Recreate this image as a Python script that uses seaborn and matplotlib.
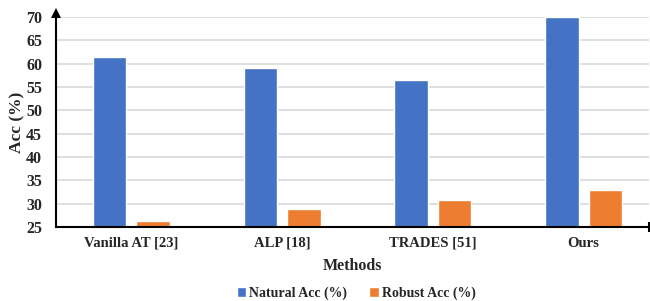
import matplotlib
matplotlib.use("Agg")
import matplotlib.pyplot as plt
import seaborn as sns
import pandas as pd

methods = ["Vanilla AT [23]", "ALP [18]", "TRADES [51]", "Ours"]
natural_acc = [61.4, 59.1, 56.4, 70.0]
robust_acc = [26.2, 28.9, 30.85, 32.9]
series_names = ["Natural Acc (%)", "Robust Acc (%)"]
colors = ["#4472C4", "#ED7D31"]
yticks = [25, 30, 35, 40, 45, 50, 55, 60, 65, 70]

df = pd.DataFrame({
    "Methods": methods * 2,
    "Acc": natural_acc + robust_acc,
    "Series": [series_names[0]] * len(methods) + [series_names[1]] * len(methods),
})

sns.set_style("white")
plt.rcParams["font.family"] = ["Liberation Serif", "DejaVu Serif"]
plt.rcParams["font.weight"] = "bold"

fig = plt.figure(figsize=(6.5, 3.01), dpi=100)
ax = fig.add_axes([56 / 650, (301 - 227) / 301, (649 - 56) / 650, (227 - 17) / 301])

sns.barplot(data=df, x="Methods", y="Acc", hue="Series", palette=colors,
            width=0.576, gap=0.23, ax=ax, saturation=1, legend=True)

ax.set_ylim(25, 70)
ax.set_xlim(-0.5, 3.434)
ax.set_yticks(yticks)
ax.yaxis.grid(True, color="#D9D9D9", linewidth=1.2)
ax.set_axisbelow(True)
for s in ["top", "right"]:
    ax.spines[s].set_visible(False)
for s in ["left", "bottom"]:
    ax.spines[s].set_color("black")
    ax.spines[s].set_linewidth(1.5)
ax.tick_params(axis="both", length=0)
ax.tick_params(axis="x", labelsize=10.5, pad=7)
ax.tick_params(axis="y", labelsize=11.5, pad=10)
for lab in ax.get_xticklabels() + ax.get_yticklabels():
    lab.set_fontweight("bold")
ax.set_xlabel("Methods", fontsize=11.5, fontweight="bold", labelpad=6)
ax.set_ylabel("Acc (%)", fontsize=12.5, fontweight="bold")
ax.yaxis.set_label_coords((25 - 56) / 593, 0.5)

# arrow head on y axis
ax.plot(0, 1.019, marker="^", markersize=7, color="black", transform=ax.transAxes,
        clip_on=False, markeredgewidth=0)
# tick at end of x axis
ax.plot(1.0, 0, marker="|", markersize=7, color="black", transform=ax.transAxes,
        clip_on=False, markeredgewidth=1.5)

handles, labels = ax.get_legend_handles_labels()
ax.get_legend().remove()
fig.legend(handles, labels, loc="center", bbox_to_anchor=(0.548, 1 - 293 / 301), ncol=2,
           frameon=False, prop={"weight": "bold", "size": 10}, handlelength=0.7,
           handleheight=0.7, handletextpad=0.2, columnspacing=1.6, borderaxespad=0)

fig.savefig("out.png", dpi=100)
